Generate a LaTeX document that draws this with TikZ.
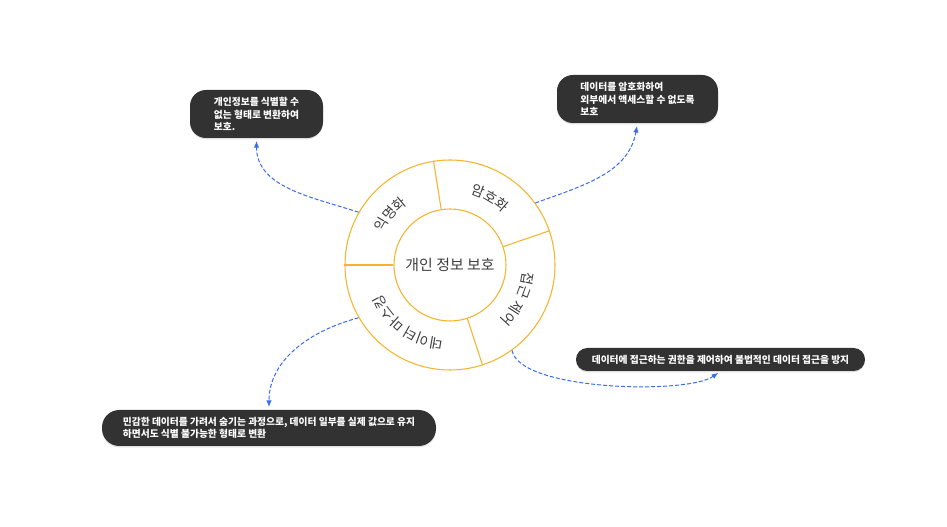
\documentclass[tikz,border=0pt]{standalone}
\usepackage{fontspec}
\setmainfont{Noto Sans CJK KR}
\usetikzlibrary{arrows.meta,decorations.text,shadows}
\definecolor{ringc}{RGB}{245,180,42}
\definecolor{linkc}{RGB}{58,108,238}
\definecolor{boxc}{RGB}{50,50,50}
\definecolor{txtc}{RGB}{60,60,60}
\tikzstyle{bx} = [rectangle,fill=boxc,text=white,font=\fontsize{7.3}{9.4}\selectfont\bfseries,align=left,inner sep=0pt,drop shadow={shadow xshift=0pt,shadow yshift=-1pt,opacity=0.25}]
\tikzstyle{ln} = [draw=linkc,line width=0.75pt,dash pattern=on 3pt off 1.5pt,-{Latex[length=5pt,width=4pt]},shorten >=2pt]
\tikzstyle{dv} = [draw=ringc,line width=0.8pt]
\tikzstyle{lb} = [decorate,decoration={text along path,text align=center,text color=txtc}]

\begin{document}
\begin{tikzpicture}[x=0.75pt,y=0.75pt]
  \useasboundingbox (0,0) rectangle (947,527);
  \node[circle,draw=ringc,line width=0.8pt,minimum size=157.5pt](ring) at (450,262) {};
  \node[circle,draw=ringc,line width=0.8pt,minimum size=84pt,inner sep=0pt,font=\fontsize{11.2}{13}\selectfont,text=txtc](core) at (ring.center) {개인 정보 보호};
  \draw[dv] (core.99) -- (ring.99);
  \draw[dv] (core.19) -- (ring.19);
  \draw[dv] (core.288) -- (ring.288);
  \draw[dv] (core.180) -- (ring.180);
  \path[lb,decoration={text={|\fontsize{10.5}{12}\selectfont|익명화}}] (ring.center) ++(180:74) arc[start angle=180,end angle=99,radius=74];
  \path[lb,decoration={text={|\fontsize{10.5}{12}\selectfont|암호화}}] (ring.center) ++(99:74) arc[start angle=99,end angle=19,radius=74];
  \path[lb,decoration={text={|\fontsize{10.5}{12}\selectfont|접근 제어}}] (ring.center) ++(19:74) arc[start angle=19,end angle=-72,radius=74];
  \path[lb,decoration={text={|\fontsize{10.5}{12}\selectfont|데이터 마스킹}}] (ring.center) ++(288:74) arc[start angle=288,end angle=180,radius=74];
  \node[bx,minimum width=99.75pt,minimum height=36pt,rounded corners=12pt](anonbox) at (256.5,413) {개인정보를 식별할 수\\없는 형태로 변환하여\\보호.};
  \node[bx,minimum width=120.75pt,minimum height=36pt,rounded corners=12pt](encbox) at (637.5,428) {데이터를 암호화하여\\외부에서 액세스할 수 없도록\\보호};
  \node[bx,minimum width=216.75pt,minimum height=17.25pt,rounded corners=8.5pt](accbox) at (720.5,167.5) {데이터에 접근하는 권한을 제어하여 불법적인 데이터 접근을 방지};
  \node[bx,minimum width=250.5pt,minimum height=27pt,rounded corners=13pt](maskbox) at (269,99) {민감한 데이터를 가려서 숨기는 과정으로, 데이터 일부를 실제 값으로 유지\\하면서도 식별 불가능한 형태로 변환};
  \draw[ln] (ring.150) to[out=162,in=-90] (anonbox.south);
  \draw[ln] (ring.36) to[out=20,in=-100] (encbox.south);
  \draw[ln] (ring.306) to[out=-80,in=215,looseness=0.5] (accbox.south);
  \draw[ln] (ring.210) to[out=195,in=90] (maskbox.north);
\end{tikzpicture}
\end{document}
